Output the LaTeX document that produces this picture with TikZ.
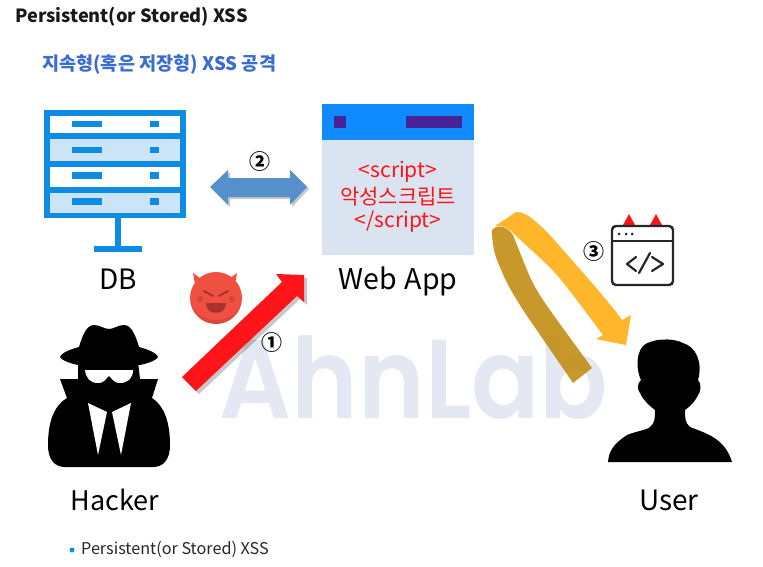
\documentclass[tikz,border=0pt]{standalone}
\usepackage{fontspec}
\setmainfont{Noto Sans CJK KR}
\newfontfamily\markfont{Poppins SemiBold}
\definecolor{dbblue}{RGB}{14,140,228}
\definecolor{dbpale}{RGB}{204,228,247}
\definecolor{linkblue}{RGB}{85,144,204}
\definecolor{barblue}{RGB}{15,139,255}
\definecolor{barpurple}{RGB}{71,35,149}
\definecolor{pagepale}{RGB}{218,227,240}
\definecolor{alertred}{RGB}{255,20,25}
\definecolor{ribbon}{RGB}{255,182,43}
\definecolor{ribbondark}{RGB}{196,143,24}
\definecolor{headblue}{RGB}{59,108,209}
\definecolor{markgray}{RGB}{227,232,242}
\definecolor{devilred}{RGB}{239,80,64}
\definecolor{devildark}{RGB}{168,50,44}
\tikzset{
  label/.style={font=\fontsize{28}{30}\selectfont},
  scriptline/.style={font=\fontsize{21}{24}\selectfont,text=alertred},
  stepmark/.style={font=\bfseries\fontsize{21}{24}\selectfont},
  rowbar/.style={fill=dbblue},
  softshadow/.style={fill=black,opacity=0.22},
  codeline/.style={draw=black!85,line width=2.2pt,line cap=round,line join=round}
}
\begin{document}
\begin{tikzpicture}[x=1pt,y=1pt,yscale=-1,xscale=1]
\useasboundingbox (0,0) rectangle (763,567);

% Text Node
\node (markAhn) [anchor=base,text=markgray,xscale=0.9,font=\markfont\fontsize{112}{112}\selectfont] at (414,418) {AhnLab};

%Shape: DB frame
\fill [dbblue] (44,110) rectangle (186,218);
\fill [white] (50,116) rectangle (180,133);
\fill [dbpale] (50,139) rectangle (180,161);
\fill [white] (50,167) rectangle (180,187);
\fill [dbpale] (50,193) rectangle (180,213);
\foreach \rowy in {121,147,172,198}{
  \fill [rowbar] (72,\rowy) rectangle (102,\rowy+6.5);
  \fill [rowbar] (150,\rowy) rectangle (159,\rowy+6.5);
}
\fill [dbblue] (115,218) rectangle (121,246);
\fill [dbblue] (94,246) rectangle (142,252);

%Shape: Double Arrow
\fill [softshadow] (212,189) -- (230,172) -- (230,180) -- (292,180) -- (292,172) -- (309,189) -- (292,207) -- (292,199) -- (230,199) -- (230,207) -- cycle;
\fill [linkblue] (210,187) -- (228,170) -- (228,178) -- (290,178) -- (290,170) -- (307,187) -- (290,205) -- (290,197) -- (228,197) -- (228,205) -- cycle;

%Shape: Web page
\fill [pagepale] (322,140) rectangle (474,255);
\fill [barblue] (322,104) rectangle (474,140);
\fill [barpurple] (334,116) rectangle (346,128);
\fill [barpurple] (406,116) rectangle (462,128);

%Shape: Red Arrow
\fill [softshadow] (185,380) -- (285,285) -- (279,277) -- (307,278) -- (307,305) -- (300,299) -- (199,394) -- cycle;
\fill [alertred] (182,377) -- (282,282) -- (276,274) -- (304,275) -- (304,302) -- (297,296) -- (196,391) -- cycle;

%Shape: Devil
\fill [devilred] (193,273) -- (204,281) -- (196,290) -- cycle;
\fill [devilred] (237,273) -- (226,281) -- (234,290) -- cycle;
\fill [devilred] (216,298) circle [radius=26];
\fill [devildark,opacity=0.25] (190.5,303) .. controls (196,320) and (207,324) .. (216,324) .. controls (225,324) and (236,320) .. (241.5,303) .. controls (236,316) and (226,320) .. (216,320) .. controls (206,320) and (196,316) .. (190.5,303) -- cycle;
\draw [devildark,line width=2pt,line cap=round] (204,291) -- (213,296);
\draw [devildark,line width=2pt,line cap=round] (228,291) -- (219,296);
\fill [devildark] (206,303) -- (226,303) .. controls (226,310) and (221,313) .. (216,313) .. controls (211,313) and (206,310) .. (206,303) -- cycle;
\fill [devildark,opacity=0.35] (200,299) circle [radius=3];
\fill [devildark,opacity=0.35] (232,299) circle [radius=3];

%Shape: Hacker
\fill (60,357) .. controls (62,352) and (72,349) .. (79,347) .. controls (82,337) and (86,325) .. (94,325) .. controls (100,325) and (104,329) .. (109,329) .. controls (114,329) and (118,325) .. (124,325) .. controls (132,325) and (136,337) .. (139,347) .. controls (146,349) and (156,352) .. (158,357) .. controls (156,361) and (145,364) .. (140,365) -- (78,365) .. controls (73,364) and (62,361) .. (60,357) -- cycle;
\fill (78,379) -- (60,379) -- (67,398) .. controls (55,405) and (48,420) .. (48,445) .. controls (48,460) and (55,467) .. (65,467) -- (153,467) .. controls (163,467) and (170,460) .. (170,445) .. controls (170,420) and (163,405) .. (152,398) -- (158,379) -- (140,379) -- (138,362) -- (78,362) -- cycle;
\fill [white] (85,370) -- (133,370) .. controls (133,378) and (128,383) .. (120,383) .. controls (113,383) and (112,378) .. (109,376) .. controls (106,378) and (105,383) .. (98,383) .. controls (90,383) and (86,378) .. (85,370) -- cycle;
\fill [white] (88,403) -- (107,412) -- (98,455) -- cycle;
\fill [white] (131,403) -- (112,412) -- (121,455) -- cycle;

%Shape: Curved Ribbon back
\fill [ribbondark,opacity=0.92] (492,230) .. controls (492,245) and (495,257) .. (500,267) .. controls (507,285) and (515,297) .. (523,310) -- (573,383) -- (592,368) -- (557,320) .. controls (545,303) and (535,290) .. (527,270) .. controls (522,258) and (517,245) .. (513,235) .. controls (507,226) and (497,224) .. (492,230) -- cycle;
%Shape: Curved Ribbon front
\fill [ribbon] (495,226) -- (516,212) .. controls (522,212) and (527,215) .. (530,217) .. controls (542,226) and (553,238) .. (563,250) .. controls (585,275) and (605,297) .. (622,320) -- (631,315) -- (626,345) -- (596,339) -- (603,335) .. controls (588,315) and (572,293) .. (557,275) .. controls (543,260) and (528,247) .. (515,235) .. controls (509,228) and (501,225) .. (495,226) -- cycle;

%Shape: Code window
\fill [alertred] (623,225) -- (635,225) -- (629,214) -- cycle;
\fill [alertred] (650,225) -- (662,225) -- (656,214) -- cycle;
\draw [black!85,fill=white,line width=2.4pt,rounded corners=4pt] (612,226) rectangle (673,285);
\draw [black!85,line width=1.8pt] (612,241) -- (673,241);
\foreach \dotx in {619,626,632}{
  \fill [black!85] (\dotx,234) circle [radius=1.5];
}
\draw [codeline] (636,257) -- (627,264) -- (636,271);
\draw [codeline] (650,253) -- (639,273);
\draw [codeline] (652,257) -- (663,264) -- (652,271);

%Shape: User
\fill (608,462) .. controls (609,452) and (612,445) .. (627,435) .. controls (637,431) and (647,430) .. (650,427) .. controls (654,424) and (655,420) .. (655,410) .. controls (648,405) and (642,398) .. (640,393) .. controls (637,389) and (637,384) .. (641,380) .. controls (637,372) and (635,355) .. (643,346) .. controls (650,339) and (672,337) .. (683,343) .. controls (696,347) and (703,362) .. (698,380) .. controls (702,384) and (701,392) .. (697,397) .. controls (694,403) and (689,407) .. (685,410) .. controls (685,418) and (685,423) .. (690,427) .. controls (705,433) and (725,438) .. (732,462) -- cycle;

% Text Node
\node (titleEn) [anchor=west,inner sep=0pt,font=\bfseries\fontsize{18.2}{20}\selectfont,text=black!90] at (15,17) {Persistent(or Stored) XSS};
% Text Node
\node (titleKo) [anchor=west,inner sep=0pt,font=\bfseries\fontsize{18.6}{20}\selectfont,text=headblue] at (42,64) {지속형(혹은 저장형) XSS 공격};
% Text Node
\node (stepTwo) [stepmark] at (260,162) {②};
% Text Node
\node (scriptOpen) [scriptline] at (398,172) {<script>};
% Text Node
\node (scriptBody) [scriptline] at (398,197) {악성스크립트};
% Text Node
\node (scriptClose) [scriptline] at (398,222) {</script>};
% Text Node
\node (dbLabel) [label] at (118,279) {DB};
% Text Node
\node (webLabel) [label,font=\fontsize{28.5}{30}\selectfont] at (398,281) {Web\hspace{8pt}App};
% Text Node
\node (stepOne) [stepmark] at (272,343) {①};
% Text Node
\node (stepThree) [stepmark] at (594,252) {③};
% Text Node
\node (hackerLabel) [label,font=\fontsize{27}{30}\selectfont] at (115,500) {Hacker};
% Text Node
\node (userLabel) [label] at (669,500) {User};
% Shape: Bullet
\fill [dbblue] (72,550) circle [radius=2.5];
% Text Node
\node (captionEn) [anchor=west,inner sep=0pt,font=\fontsize{16.2}{18}\selectfont,text=black!85] at (81,549.5) {Persistent(or Stored) XSS};

\end{tikzpicture}
\end{document}
